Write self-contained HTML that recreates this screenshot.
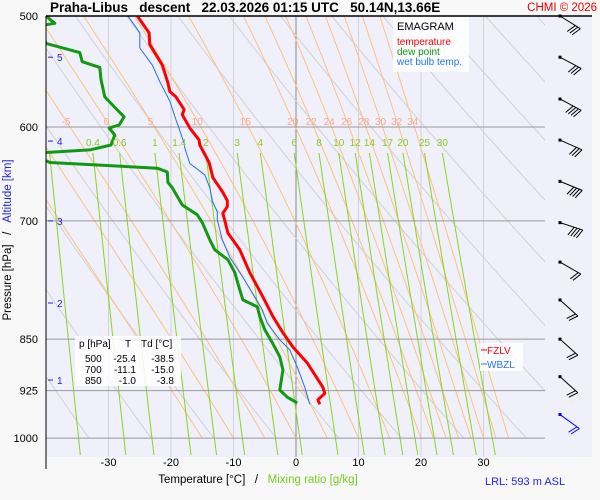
<!DOCTYPE html>
<html><head><meta charset="utf-8"><style>
html,body{margin:0;padding:0;background:#f8f8f8;}
svg{display:block;font-family:"Liberation Sans",sans-serif;}
</style></head><body>
<svg id="c" width="600" height="500" viewBox="0 0 600 500">
<rect x="0" y="0" width="600" height="500" fill="#f8f8f8"/>
<rect x="46" y="16" width="546" height="441" fill="#f0f0fb"/>
<defs><clipPath id="pc"><rect x="46" y="16" width="499" height="441"/></clipPath></defs>
<g id="grid" clip-path="url(#pc)"></g>
<g id="series" clip-path="url(#pc)"></g>
<g id="labels"></g>
<line x1="46" y1="16" x2="592" y2="16" stroke="#000" stroke-width="1.5"/>
<line x1="46" y1="16" x2="46" y2="469" stroke="#000" stroke-width="1"/>
<text x="50" y="12" font-size="13.5" font-weight="bold" fill="#000" xml:space="preserve">Praha-Libus   descent   22.03.2026 01:15 UTC   50.14N,13.66E</text>
<text x="597" y="11" font-size="11.5" fill="#e00" text-anchor="end">CHMI © 2026</text>
<text transform="translate(11,240) rotate(-90)" font-size="11.5" text-anchor="middle" xml:space="preserve"><tspan fill="#000">Pressure [hPa]   /   </tspan><tspan fill="#22d">Altitude [km]</tspan></text>
<text x="258" y="483" font-size="11.5" text-anchor="middle" xml:space="preserve"><tspan fill="#000">Temperature [°C]   /   </tspan><tspan fill="#7c2">Mixing ratio [g/kg]</tspan></text>
<text x="485" y="485" font-size="11" fill="#22e">LRL: 593 m ASL</text>
<g>
<rect x="393" y="17" width="76" height="55" fill="#fff" opacity="0.85"/>
<text x="397" y="30" font-size="11" fill="#000">EMAGRAM</text>
<text x="397" y="45" font-size="10" fill="#f00">temperature</text>
<text x="397" y="55" font-size="10" fill="#191">dew point</text>
<text x="397" y="65" font-size="10" fill="#27e">wet bulb temp.</text>
</g>
<g font-size="10" fill="#000">
<rect x="75" y="336" width="106" height="50" fill="#fff" opacity="0.85"/>
<text x="79" y="347">p [hPa]</text><text x="128" y="347" text-anchor="middle">T</text><text x="141" y="347">Td [°C]</text>
<text x="85" y="362">500</text><text x="136" y="362" text-anchor="end">-25.4</text><text x="174" y="362" text-anchor="end">-38.5</text>
<text x="85" y="373">700</text><text x="136" y="373" text-anchor="end">-11.1</text><text x="174" y="373" text-anchor="end">-15.0</text>
<text x="85" y="384">850</text><text x="136" y="384" text-anchor="end">-1.0</text><text x="174" y="384" text-anchor="end">-3.8</text>
</g>
<g><rect x="480" y="343" width="43" height="14" fill="#fff" opacity="0.85"/><line x1="481" y1="350" x2="487" y2="350" stroke="#f00"/><text x="487" y="354" font-size="10" fill="#f00">FZLV</text></g>
<g><rect x="480" y="357" width="43" height="14" fill="#fff" opacity="0.85"/><line x1="481" y1="364" x2="487" y2="364" stroke="#27e"/><text x="487" y="368" font-size="10" fill="#27e">WBZL</text></g>
<g id="barbs"></g>
</svg>
<script>
const tempP=[500,514,524,542,558,566,571,583,588,601,613,618,636,652,668,677,684,691,714,734,762,793,819,841,861,884,920,929,939,946];
const tempT=[-25.4,-23.5,-23.4,-21.4,-20.5,-20.2,-19.2,-17.9,-18.2,-17.0,-15.5,-15.4,-13.9,-13.3,-11.7,-11.0,-11.0,-11.7,-10.9,-9.0,-7.4,-5.3,-3.7,-2.1,-0.5,1.8,4.3,4.6,3.5,3.8];
const dewP=[500,506,508,523,531,539,544,555,571,581,590,598,601,608,618,623,626,631,636,642,646,657,663,682,693,702,722,734,746,762,784,797,806,819,837,855,875,894,924,935,944];
const dewT=[-40,-38.6,-41,-40,-34.6,-34.2,-31.4,-31.2,-30.6,-29.0,-27.5,-28.3,-29.9,-29.0,-29.6,-33.0,-41,-41,-39.4,-22.2,-20.6,-20.5,-19.8,-18.2,-15.8,-15.0,-13.8,-13.0,-10.9,-9.8,-9.0,-8.5,-6.2,-5.8,-5.0,-3.8,-2.6,-2.1,-2.6,-1.4,0.2];
const wbP=[500,514,527,542,557,575,593,598,616,621,637,649,663,677,690,699,722,743,768,793,810,828,851,865,890,920,946];
const wbT=[-26.9,-25.0,-25.0,-23.0,-21.8,-20.2,-19.2,-18.9,-17.9,-17.8,-17.0,-14.6,-13.8,-13.4,-12.6,-12.6,-11.8,-10.6,-8.5,-6.6,-5.4,-4.6,-2.6,-1.0,0.2,1.4,2.2];
const pressureTicks=[500,600,700,850,925,1000];
const tempTicks=[-30,-20,-10,0,10,20,30];
const altKm=[5,4,3,2,1];
const altP=[535,614,700,801,909];
const mixRatios=[0.1,0.2,0.4,0.6,1,1.4,2,3,4,6,8,10,12,14,17,20,25,30];
const mixLabels=["","","0.4","0.6","1","1.4","2","3","4","6","8","10","12","14","17","20","25","30"];
const thetaW=[-15,-10,-5,0,5,10,15,20,22,24,26,28,30,32,34];
const thetaWLabels=["","","-5","0","5","10","15","20","22","24","26","28","30","32","34"];
const thetaDry=[230,240,250,260,270,280,290,300,310,320,330,340,350,360,370,380,390,400,410,420,430,440,450,460];
const windP=[500,535,573,613,656,702,749,797,850,904,962];
const windDir=[32,28,28,24,22,18,30,42,42,42,36];
const windBarbs=[3,3,4,3,4,4,2,2,2,2,2];

const NS="http://www.w3.org/2000/svg";
const X=T=>296+6.25*T;
const Y=p=>16+609*Math.log(p/500);
function mk(tag,attrs,parent){const e=document.createElementNS(NS,tag);for(const k in attrs)e.setAttribute(k,attrs[k]);parent.appendChild(e);return e;}
const grid=document.getElementById('grid'),series=document.getElementById('series'),labels=document.getElementById('labels'),barbs=document.getElementById('barbs');
function pathD(pts){return pts.map((q,i)=>(i?'L':'M')+q[0].toFixed(1)+','+q[1].toFixed(1)).join('');}

tempTicks.forEach(t=>{
  const l=mk('line',{x1:X(t),y1:16,x2:X(t),y2:457,stroke:t===0?'#888':'#d2d2d8','stroke-width':1},grid);
  
  
  const tx=mk('text',{x:X(t),y:466,'font-size':11,'text-anchor':'middle',fill:'#000'},labels);tx.textContent=t;
  
  
});
thetaDry.forEach(th=>{
  const pts=[];for(let p=500;p<=1000;p+=10){pts.push([X(th*Math.pow(p/1000,0.286)-273.15),Y(p)]);}
  const e=mk('path',{d:pathD(pts),fill:'none',stroke:'#d0d0d4','stroke-width':1},grid);
  
  
});
function rs(T,p){const es=6.112*Math.exp(17.67*T/(T+243.5));return 0.622*es/(p-es);}
function dTdp(T,p){const Tk=T+273.15,r=rs(T,p),Lv=2.5e6,Rd=287,cp=1004;return (Rd*Tk+Lv*r)/(p*(cp+Lv*Lv*r*0.622/(Rd*Tk*Tk)));}
thetaW.forEach((tw,i)=>{
  let T=tw,pts=[[X(T),Y(1000)]],lab=null;
  for(let p=1000;p>500;p-=2){T-=dTdp(T,p)*2;pts.push([X(T),Y(p-2)]);if(Math.abs(p-2-594)<1)lab=X(T);}
  const e=mk('path',{d:pathD(pts),fill:'none',stroke:'#ffc080','stroke-width':1},grid);
  
  
  if(thetaWLabels[i]&&lab!==null){const t=mk('text',{x:lab,y:125,'font-size':10,'text-anchor':'middle',fill:'#f8a890'},labels);t.textContent=thetaWLabels[i];
    
    }
});
function tdFor(w,p){const e=w*p/(622+w),a=Math.log(e/6.112);return 243.5*a/(17.67-a);}
mixRatios.forEach((w,i)=>{
  const pts=[];for(let p=626;p<=1032;p+=6)pts.push([X(tdFor(w,p)),Y(p)]);
  const e=mk('path',{d:pathD(pts),fill:'none',stroke:'#88d420','stroke-width':1},grid);
  
  
  if(mixLabels[i]){const t=mk('text',{x:X(tdFor(w,626)),y:146,'font-size':10,'text-anchor':'middle',fill:'#88cc22'},labels);t.textContent=mixLabels[i];
    
    }
});
pressureTicks.forEach(p=>{
  if(p>500){const l=mk('line',{x1:46,y1:Y(p),x2:545,y2:Y(p),stroke:'#999','stroke-width':1},grid);
    
    }
  const t=mk('text',{x:38,y:Y(p)+4,'font-size':11,'text-anchor':'end',fill:'#000'},labels);t.textContent=p;
  
  
});
altKm.forEach((k,i)=>{
  const y=Y(altP[i]);
  const l=mk('line',{x1:48,y1:y,x2:53,y2:y,stroke:'#22d'},labels);
  
  
  const t=mk('text',{x:57,y:y+4,'font-size':10,fill:'#22d'},labels);t.textContent=k;
  
  
});
function line(P,T,color,w,name){
  const e=mk('path',{d:pathD(P.map((p,i)=>[X(T[i]),Y(p)])),fill:'none',stroke:color,'stroke-width':w,'stroke-linejoin':'round'},series);
  
  
}
line(wbP,wbT,'#2070e8',1,'wet-bulb-line');
line(dewP,dewT,'#119911',3,'dewpoint-line');
line(tempP,tempT,'#ff0000',3,'temperature-line');
windP.forEach((p,i)=>{
  const g=mk('g',{},barbs);
  
  
  const col=i===windP.length-1?'#00f':'#000';
  const y0=Y(p),x0=560,a=windDir[i]*Math.PI/180,L=24;
  const x1=x0+L*Math.cos(a),y1=y0+L*Math.sin(a);
  mk('rect',{x:x0-1.5,y:y0-1.5,width:3,height:3,fill:col},g);
  mk('line',{x1:x0,y1:y0,x2:x1,y2:y1,stroke:col,'stroke-width':1},g);
  const fa=a+Math.PI*0.62;
  for(let k=0;k<windBarbs[i];k++){
    const bx=x1-k*3*Math.cos(a),by=y1-k*3*Math.sin(a);
    mk('line',{x1:bx,y1:by,x2:bx+10*Math.cos(fa),y2:by+10*Math.sin(fa),stroke:col,'stroke-width':1},g);
  }
});
</script>
</body></html>
